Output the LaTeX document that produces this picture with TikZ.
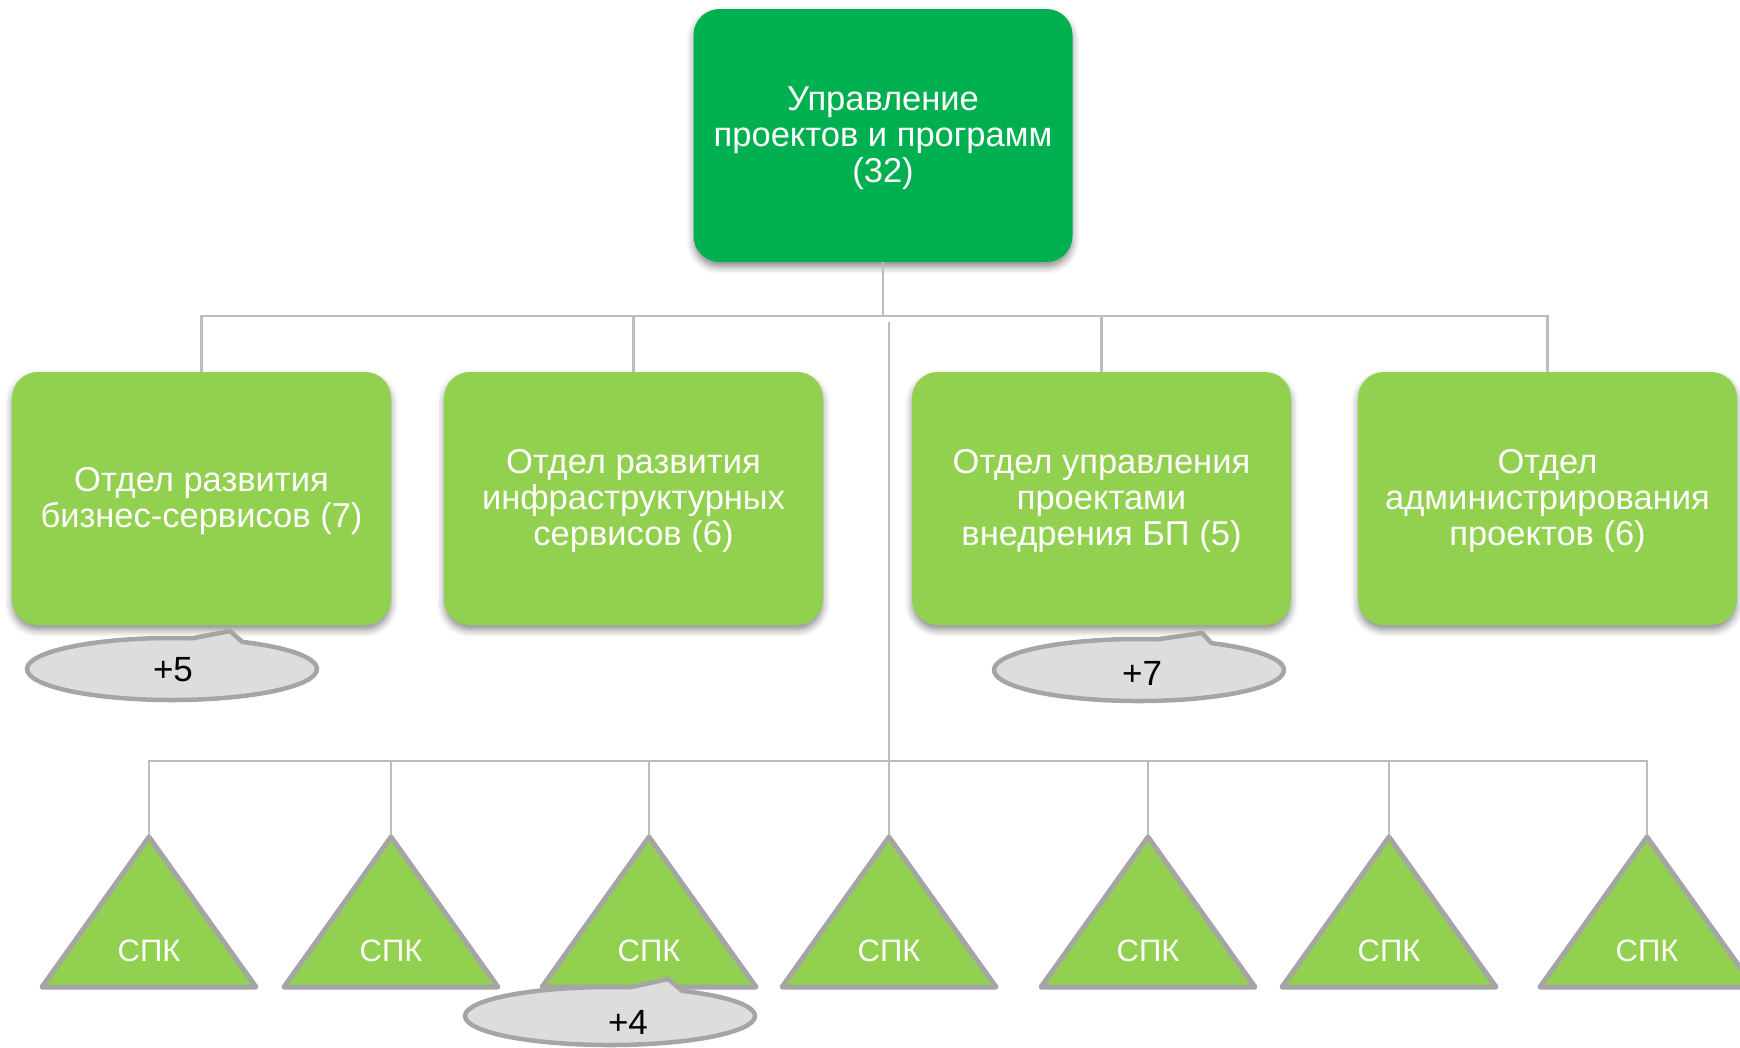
\documentclass[tikz,border=0pt]{standalone}
\usepackage{fontspec}
\setmainfont{Liberation Sans}
\usetikzlibrary{calc,shadows.blur}
\definecolor{topgreen}{HTML}{00B050}
\definecolor{midgreen}{HTML}{92D050}
\definecolor{linegray}{HTML}{BDBDBD}
\definecolor{edgegray}{HTML}{A5A5A5}
\definecolor{callfill}{HTML}{DDDDDD}
\begin{document}
\begin{tikzpicture}[x=1bp,y=-1bp,
  box/.style={rounded corners=26bp, minimum width=379bp, minimum height=253bp, inner sep=0pt, draw=none,
    blur shadow={shadow xshift=0bp, shadow yshift=-5bp, shadow blur radius=7bp, shadow opacity=45}},
  boxtext/.style={text=white, align=center, inner sep=0pt, font=\fontsize{34.5bp}{36bp}\selectfont},
  conn/.style={draw=linegray, line width=2.2bp},
  tri/.style={draw=edgegray, fill=midgreen, line width=5bp, line join=round},
  spk/.style={text=white, inner sep=0pt, font=\fontsize{31bp}{31bp}\selectfont},
  callout/.style={draw=edgegray, fill=callfill, line width=4.5bp, line join=round},
  calltext/.style={text=black, inner sep=0pt, font=\fontsize{35bp}{35bp}\selectfont}]
\useasboundingbox (0,0) rectangle (1740,1047);

% boxes
\node[box, fill=topgreen] (top) at (883,135.5) {};
\node[box, fill=midgreen] (b1) at (201.5,498.5) {};
\node[box, fill=midgreen] (b2) at (633.5,498.5) {};
\node[box, fill=midgreen] (b3) at (1101.5,498.5) {};
\node[box, fill=midgreen] (b4) at (1547.5,498.5) {};

\node[boxtext] (ttop) at (883,138) {Управление\\проектов и программ\\(32)};
\node[boxtext] (tb1) at (201.5,501) {Отдел развития\\бизнес-сервисов (7)};
\node[boxtext] (tb2) at (633.5,501) {Отдел развития\\инфраструктурных\\сервисов (6)};
\node[boxtext] (tb3) at (1101.5,501) {Отдел управления\\проектами\\внедрения БП (5)};
\node[boxtext] (tb4) at (1547.5,501) {Отдел\\администрирования\\проектов (6)};

% upper connectors
\coordinate (j1) at (883,316);
\draw[conn] (top.south) -- (j1);
\draw[conn] (b1.north) -- (b1.north |- j1) -- (b4.north |- j1) -- (b4.north);
\draw[conn] (b2.north) -- (b2.north |- j1);
\draw[conn] (b3.north) -- (b3.north |- j1);

% triangles apex coordinates
\foreach \x [count=\i] in {149,391,649,889,1148,1389,1647} {
  \coordinate (t\i) at (\x,837);
}
\coordinate (c0) at (889,322);
\coordinate (busL) at (149,761);
\coordinate (busR) at (1647,761);
\draw[conn] (t1) -- (busL) -- (busR) -- (t7);
\foreach \i in {2,3,5,6} {
  \draw[conn] (t\i) -- (t\i |- busL);
}
\draw[conn] (c0) -- (t4);

\foreach \x [count=\i] in {149,391,649,889,1148,1389,1647} {
  \draw[tri] (t\i) -- (\x-107,987) -- (\x+107,987) -- cycle;
  \node[spk] (s\i) at (\x,951) {СПК};
}

% callouts
\draw[callout] ($(172,669)+(-61:145 and 31)$) arc[start angle=-61, end angle=278, x radius=145, y radius=31] -- (230,631) -- cycle;
\node[calltext] (n5) at (173,670) {+5};
\draw[callout] ($(1139,670)+(-60:145 and 31)$) arc[start angle=-60, end angle=277.5, x radius=145, y radius=31] -- (1202,633) -- cycle;
\node[calltext] (n7) at (1142,673) {+7};
\draw[callout] ($(610,1016)+(-60:145 and 29)$) arc[start angle=-60, end angle=278, x radius=145, y radius=29] -- (668,979) -- cycle;
\node[calltext] (n4) at (628,1022) {+4};
\end{tikzpicture}
\end{document}
